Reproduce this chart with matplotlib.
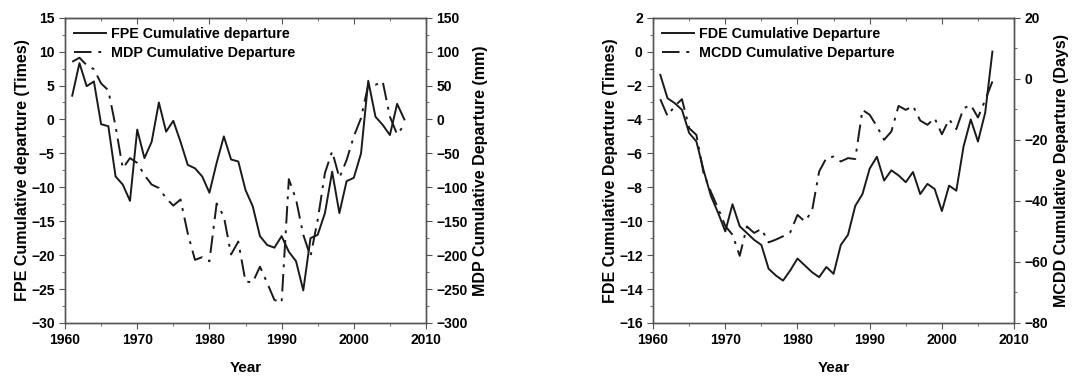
import matplotlib
matplotlib.use('Agg')
import matplotlib.pyplot as plt
import numpy as np
from matplotlib.ticker import MultipleLocator

plt.rcParams['font.family'] = ['Liberation Sans', 'DejaVu Sans']
plt.rcParams['font.weight'] = 'bold'
plt.rcParams['axes.labelweight'] = 'bold'
plt.rcParams['font.size'] = 10

years = np.arange(1961, 2008)

# left panel
fpe = [3.5, 8.3, 4.9, 5.6, -0.7, -1.0, -8.4, -9.6, -12.0, -1.5,
       -5.7, -3.3, 2.5, -1.8, -0.2, -3.3, -6.7, -7.2, -8.4, -10.8,
       -6.4, -2.5, -5.9, -6.2, -10.4, -12.8, -17.2, -18.5, -18.9, -17.2,
       -19.5, -20.9, -25.2, -17.5, -17.0, -13.8, -7.7, -13.8, -9.1, -8.6,
       -5.0, 5.7, 0.4, -0.8, -2.3, 2.3, 0.0]
mdp = [85, 91, 80, 74, 53, 43, -10, -72, -57, -64,
       -82, -96, -101, -116, -127, -118, -168, -207, -203, -209,
       -124, -143, -199, -180, -239, -240, -217, -241, -266, -270,
       -88, -118, -170, -202, -148, -79, -47, -86, -60, -25,
       2, 51, 51, 56, 4, -22, -8]

# right panel
fde = [-1.37, -2.75, -3.04, -3.43, -4.8, -5.3, -7.0, -8.5, -9.5, -10.6,
       -9.0, -10.3, -10.7, -11.1, -11.4, -12.8, -13.2, -13.5, -12.9, -12.2,
       -12.6, -13.0, -13.3, -12.7, -13.1, -11.4, -10.8, -9.1, -8.4, -6.9,
       -6.2, -7.6, -7.0, -7.3, -7.7, -7.1, -8.4, -7.8, -8.1, -9.4,
       -7.9, -8.2, -5.6, -4.0, -5.3, -3.6, 0.0]
mcdd = [-6.7, -12.2, -8.9, -6.7, -16.2, -18.4, -31, -37, -42.4, -48.2,
        -51.1, -58, -48.4, -50.5, -49.2, -53.6, -52.7, -51.6, -50.3, -44.6,
        -46.7, -43.5, -30.4, -26.0, -25.5, -27.1, -26.0, -26.3, -10.2, -11.8,
        -15.6, -20.0, -17.3, -8.9, -10.2, -8.9, -13.7, -15.1, -12.9, -18.2,
        -13.3, -16.5, -9.7, -8.6, -12.7, -7.0, -0.9]

spine_col = '#555555'
dashdot = (0, (9, 3.5, 1.5, 3.5))


def style_axes(ax, ax2):
    for a in (ax, ax2):
        for s in a.spines.values():
            s.set_color(spine_col)
            s.set_linewidth(1.0)
    ax.tick_params(axis='y', which='both', direction='out', color=spine_col, labelsize=10)
    ax.tick_params(axis='x', which='both', direction='out', color=spine_col, labelsize=10, bottom=True, top=False)
    ax.tick_params(which='major', length=4)
    ax.tick_params(which='minor', length=2.5)
    ax2.tick_params(axis='y', which='both', direction='out', color=spine_col, labelsize=10)
    ax2.tick_params(which='major', length=4)
    ax2.tick_params(which='minor', length=2.5)
    for lab in ax.get_xticklabels() + ax.get_yticklabels() + ax2.get_yticklabels():
        lab.set_fontweight('bold')
    # top ticks pointing inward
    sec = ax.secondary_xaxis('top')
    sec.set_xticks(np.arange(1960, 2011, 10))
    sec.xaxis.set_minor_locator(MultipleLocator(5))
    sec.tick_params(which='both', direction='in', labeltop=False, color=spine_col)
    sec.tick_params(which='major', length=4)
    sec.tick_params(which='minor', length=2.5)
    sec.spines['top'].set_color(spine_col)


fig = plt.figure(figsize=(10.89, 3.76), dpi=100)

# ---- left ----
ax1 = fig.add_axes((0.0597, 0.141, 0.3315, 0.812))
l1, = ax1.plot(years, fpe, color='#1a1a1a', lw=1.4, label='FPE Cumulative departure')
ax1.set_xlim(1960, 2010)
ax1.set_ylim(-30, 15)
ax1.xaxis.set_major_locator(MultipleLocator(10))
ax1.xaxis.set_minor_locator(MultipleLocator(5))
ax1.yaxis.set_major_locator(MultipleLocator(5))
ax1.yaxis.set_minor_locator(MultipleLocator(2.5))
ax1.set_xlabel('Year', fontweight='bold', fontsize=11, labelpad=10)
ax1.set_ylabel('FPE Cumulative departure (Times)', fontweight='bold', fontsize=11.5, labelpad=1)
ax1b = ax1.twinx()
l2, = ax1b.plot(years, mdp, color='#1a1a1a', lw=1.4, linestyle=dashdot, label='MDP Cumulative Departure')
ax1b.set_ylim(-300, 150)
ax1b.yaxis.set_major_locator(MultipleLocator(50))
ax1b.yaxis.set_minor_locator(MultipleLocator(25))
ax1b.set_ylabel('MDP Cumulative Departure (mm)', fontweight='bold', fontsize=11.5, labelpad=4)
style_axes(ax1, ax1b)
ax1.legend([l1, l2], [l1.get_label(), l2.get_label()], loc='upper left', frameon=False,
           handlelength=2.2, handletextpad=0.35, borderaxespad=0.25,
           labelspacing=0.35, prop={'weight': 'bold', 'size': 10.3})

# ---- right ----
ax2 = fig.add_axes((0.5997, 0.141, 0.3315, 0.812))
r1, = ax2.plot(years, fde, color='#1a1a1a', lw=1.4, label='FDE Cumulative Departure')
ax2.set_xlim(1960, 2010)
ax2.set_ylim(-16, 2)
ax2.xaxis.set_major_locator(MultipleLocator(10))
ax2.xaxis.set_minor_locator(MultipleLocator(5))
ax2.yaxis.set_major_locator(MultipleLocator(2))
ax2.yaxis.set_minor_locator(MultipleLocator(1))
ax2.set_xlabel('Year', fontweight='bold', fontsize=11, labelpad=10)
ax2.set_ylabel('FDE Cumulative Departure (Times)', fontweight='bold', fontsize=11.5, labelpad=1)
ax2b = ax2.twinx()
r2, = ax2b.plot(years, mcdd, color='#1a1a1a', lw=1.4, linestyle=dashdot, label='MCDD Cumulative Departure')
ax2b.set_ylim(-80, 20)
ax2b.yaxis.set_major_locator(MultipleLocator(20))
ax2b.yaxis.set_minor_locator(MultipleLocator(10))
ax2b.set_ylabel('MCDD Cumulative Departure (Days)', fontweight='bold', fontsize=11.5, labelpad=4)
style_axes(ax2, ax2b)
ax2.legend([r1, r2], [r1.get_label(), r2.get_label()], loc='upper left', frameon=False,
           handlelength=2.2, handletextpad=0.35, borderaxespad=0.25,
           labelspacing=0.35, prop={'weight': 'bold', 'size': 10.3})

fig.savefig('out.png', dpi=100)
